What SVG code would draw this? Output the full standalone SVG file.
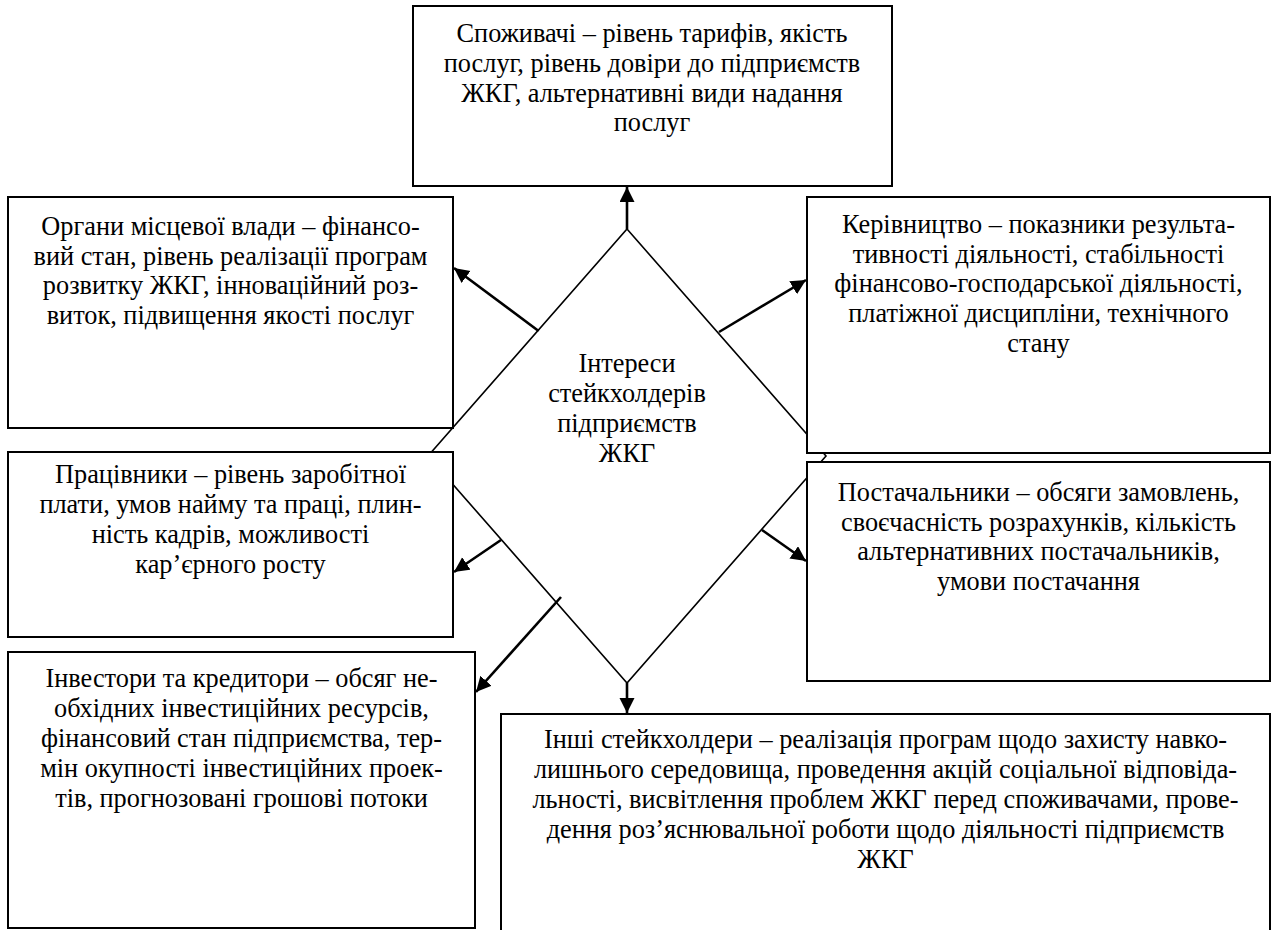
<svg xmlns="http://www.w3.org/2000/svg" width="1273" height="930" viewBox="0 0 1273 930">
<defs>
<style>
.box{fill:#fff;stroke:#000;stroke-width:2}
.dia{fill:#fff;stroke:#000;stroke-width:1.6}
.arr{fill:none;stroke:#000;stroke-width:2.6;marker-end:url(#ah)}
text{font-family:"Liberation Serif","Times New Roman",serif;font-size:26.3px;fill:#000;text-anchor:middle}
</style>
<marker id="ah" markerUnits="userSpaceOnUse" markerWidth="16" markerHeight="16" viewBox="0 0 16 16" refX="15" refY="7.5" orient="auto">
<path d="M0,0 L15,7.5 L0,15 z" fill="#000"/>
</marker>
</defs>
<rect width="1273" height="930" fill="#fff"/>
<g id="center">
<polygon class="dia" points="627,229 826,456 627,683 428,456"/>
<text x="627" y="372">Інтереси</text>
<text x="627" y="402">стейкхолдерів</text>
<text x="627" y="432">підприємств</text>
<text x="627" y="462">ЖКГ</text>
</g>
<g id="connectors">
<line class="arr" x1="627" y1="229" x2="627" y2="187"/>
<line class="arr" x1="538.6" y1="331" x2="454" y2="268"/>
<line class="arr" x1="719" y1="332" x2="806" y2="280"/>
<line class="arr" x1="501" y1="540" x2="454" y2="572"/>
<line class="arr" x1="762" y1="530" x2="806" y2="561"/>
<line class="arr" x1="561" y1="597" x2="476" y2="692"/>
<line class="arr" x1="627" y1="683" x2="627" y2="713"/>
</g>
<g id="consumers">
<rect class="box" x="413" y="6" width="479" height="180"/>
<text x="652" y="42">Споживачі – рівень тарифів, якість</text>
<text x="652" y="72">послуг, рівень довіри до підприємств</text>
<text x="652" y="101.5">ЖКГ, альтернативні види надання</text>
<text x="652" y="131">послуг</text>
</g>
<g id="authorities">
<rect class="box" x="8" y="197" width="445" height="231"/>
<text x="230.5" y="235">Органи місцевої влади – фінансо-</text>
<text x="230.5" y="264.5">вий стан, рівень реалізації програм</text>
<text x="230.5" y="294">розвитку ЖКГ, інноваційний роз-</text>
<text x="230.5" y="323.5">виток, підвищення якості послуг</text>
</g>
<g id="management">
<rect class="box" x="807" y="197" width="463" height="256"/>
<text x="1038.5" y="233">Керівництво – показники результа-</text>
<text x="1038.5" y="262.5">тивності діяльності, стабільності</text>
<text x="1038.5" y="292">фінансово-господарської діяльності,</text>
<text x="1038.5" y="322">платіжної дисципліни, технічного</text>
<text x="1038.5" y="351.5">стану</text>
</g>
<g id="employees">
<rect class="box" x="8" y="452" width="445" height="185"/>
<text x="230.5" y="483">Працівники – рівень заробітної</text>
<text x="230.5" y="513">плати, умов найму та праці, плин-</text>
<text x="230.5" y="543">ність кадрів, можливості</text>
<text x="230.5" y="573">кар’єрного росту</text>
</g>
<g id="suppliers">
<rect class="box" x="807" y="462" width="463" height="219"/>
<text x="1038.5" y="501">Постачальники – обсяги замовлень,</text>
<text x="1038.5" y="530.5">своєчасність розрахунків, кількість</text>
<text x="1038.5" y="560">альтернативних постачальників,</text>
<text x="1038.5" y="589.5">умови постачання</text>
</g>
<g id="investors">
<rect class="box" x="8" y="652" width="467" height="276"/>
<text x="241.5" y="687">Інвестори та кредитори – обсяг не-</text>
<text x="241.5" y="717">обхідних інвестиційних ресурсів,</text>
<text x="241.5" y="747">фінансовий стан підприємства, тер-</text>
<text x="241.5" y="777">мін окупності інвестиційних проек-</text>
<text x="241.5" y="807">тів, прогнозовані грошові потоки</text>
</g>
<g id="others">
<rect class="box" x="501" y="714" width="769" height="230"/>
<text x="885.5" y="748">Інші стейкхолдери – реалізація програм щодо захисту навко-</text>
<text x="885.5" y="778">лишнього середовища, проведення акцій соціальної відповіда-</text>
<text x="885.5" y="808">льності, висвітлення проблем ЖКГ перед споживачами, прове-</text>
<text x="885.5" y="838">дення роз’яснювальної роботи щодо діяльності підприємств</text>
<text x="885.5" y="868">ЖКГ</text>
</g>
</svg>
